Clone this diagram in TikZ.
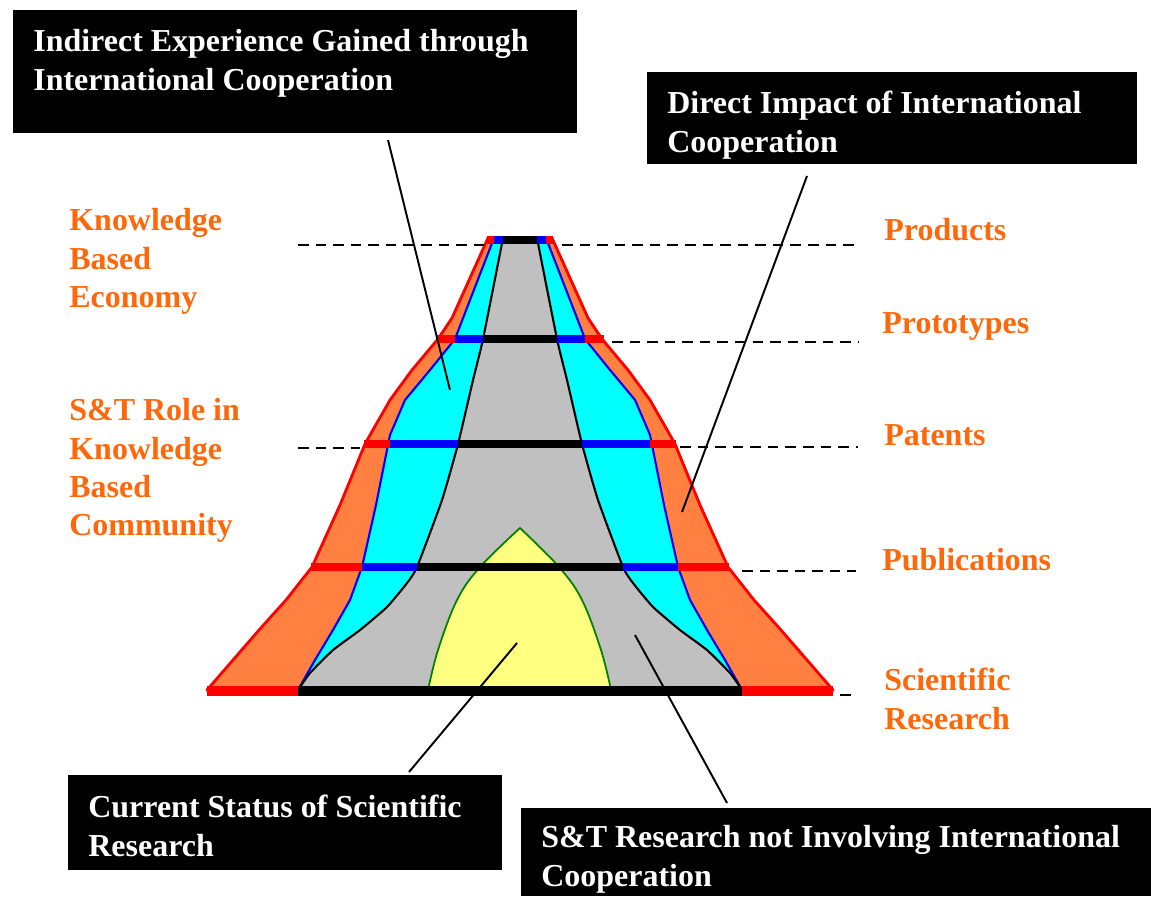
\documentclass[tikz,border=0pt]{standalone}
\usepackage{fontspec}
\setmainfont{Liberation Serif}
\usepackage{tikz}
\usetikzlibrary{calc, positioning}

\definecolor{tierorange}{RGB}{255,128,64}
\definecolor{labelorange}{RGB}{255,104,10}
\definecolor{coregray}{RGB}{192,192,192}
\definecolor{bandcyan}{RGB}{0,255,255}
\definecolor{statusyellow}{RGB}{255,255,128}
\definecolor{edgegreen}{RGB}{0,128,0}
\newcommand{\diagfont}{\fontsize{18.2}{21.9}\selectfont\bfseries}

\tikzset{
  levelbar/.style={line width=0.16cm},
  guide/.style={line width=1.3pt, dash pattern=on 6pt off 4pt},
  pointer/.style={line width=1.1pt},
  boxtext/.style={text=white, align=left, anchor=north west, inner sep=0pt, font=\diagfont},
  tiertext/.style={text=labelorange, align=left, anchor=north west, inner sep=0pt, font=\diagfont},
  leveltext/.style={text=labelorange, anchor=base west, inner sep=0pt, font=\diagfont}
}

\begin{document}
\begin{tikzpicture}[x=0.02cm, y=-0.02cm]
   \useasboundingbox (0,0) rectangle (1151,896);
   \coordinate (indirectFrom) at (388,140);
   \coordinate (indirectTo) at (450,390);
   \coordinate (directFrom) at (807,176);
   \coordinate (directTo) at (682,512);
   \coordinate (statusFrom) at (409,772);
   \coordinate (statusTo) at (517,643);
   \coordinate (localFrom) at (727,803);
   \coordinate (localTo) at (635,635);

   % pyramid layers
   \filldraw[fill=tierorange, draw=red, line width=1.6pt, line join=round]
      (207,690) -- (233,660) -- (259,630) -- (286,600) -- (312,567) -- (340,505) -- (365,444)
      -- (374,428) -- (390,400) -- (412,370) -- (438,339) -- (452,318) -- (488,238)
      -- (552,238) -- (588,318) -- (602,339) -- (628,370) -- (650,400) -- (666,428) -- (675,444)
      -- (700,505) -- (728,567) -- (754,600) -- (781,630) -- (807,660) -- (833,690) -- cycle;
   \filldraw[fill=bandcyan, draw=blue, line width=1.2pt, line join=round]
      (298,690) -- (315,660) -- (333,630) -- (350,600) -- (362,567) -- (376,505)
      -- (390,435) -- (405,400) -- (430,370) -- (455,339) -- (470,300) -- (494,238)
      -- (546,238) -- (570,300) -- (585,339) -- (610,370) -- (635,400) -- (650,435)
      -- (664,505) -- (678,567) -- (690,600) -- (707,630) -- (725,660) -- (742,690) -- cycle;
   \filldraw[fill=coregray, draw=black, line width=1.2pt]
      plot[smooth, tension=0.3] coordinates {(298,690) (310,673) (333,650) (360,630) (387,607) (407,583) (417,567) (442,500) (458,444) (473,380) (483,339) (503,238)}
      -- plot[smooth, tension=0.3] coordinates {(537,238) (557,339) (567,380) (582,444) (598,500) (623,567) (633,583) (653,607) (680,630) (707,650) (730,673) (742,690)} -- cycle;
   \filldraw[fill=statusyellow, draw=edgegreen, line width=1pt]
      plot[smooth, tension=0.6] coordinates {(428,690) (438,650) (457,600) (480,567) (520,528)}
      -- plot[smooth, tension=0.6] coordinates {(520,528) (559,567) (582,600) (601,650) (611,690)} -- cycle;

   % level bars
   \draw[levelbar, red] (487,240) -- (553,240);
   \draw[levelbar, blue] (494,240) -- (546,240);
   \draw[levelbar, black] (503,240) -- (537,240);
   \draw[levelbar, red] (437,339) -- (604,339);
   \draw[levelbar, blue] (455,339) -- (585,339);
   \draw[levelbar, black] (483,339) -- (557,339);
   \draw[levelbar, red] (364,444) -- (676,444);
   \draw[levelbar, blue] (390,444) -- (650,444);
   \draw[levelbar, black] (458,444) -- (582,444);
   \draw[levelbar, red] (311,567) -- (729,567);
   \draw[levelbar, blue] (362,567) -- (678,567);
   \draw[levelbar, black] (417,567) -- (623,567);
   \draw[line width=0.2cm, red] (207,691) -- (833,691);
   \draw[line width=0.2cm, black] (298,691) -- (742,691);

   % dashed guides
   \draw[guide] (298,245) -- (484,245);
   \draw[guide] (562,245) -- (855,245);
   \draw[guide] (612,342) -- (858,342);
   \draw[guide] (298,448) -- (360,448);
   \draw[guide] (680,447) -- (858,447);
   \draw[guide] (742,571) -- (856,571);
   \draw[guide] (840,695) -- (851,695);

   % boxes
   \fill[black] (13,10) rectangle (577,133);
   \fill[black] (647,72) rectangle (1137,164);
   \fill[black] (68,775) rectangle (502,870);
   \fill[black] (521,808) rectangle (1151,896);
   \node[boxtext] (indirect) at (33,29) {Indirect Experience Gained through\\International Cooperation};
   \node[boxtext] (direct) at (667,91) {Direct Impact of International\\Cooperation};
   \node[boxtext] (status) at (88,795) {Current Status of Scientific\\Research};
   \node[boxtext] (local) at (541,825) {S\&T Research not Involving International\\Cooperation};

   \draw[pointer] (indirectFrom) -- (indirectTo);
   \draw[pointer] (directFrom) -- (directTo);
   \draw[pointer] (statusFrom) -- (statusTo);
   \draw[pointer] (localFrom) -- (localTo);

   % tier labels
   \node[tiertext] (economy) at (69,208) {Knowledge\\Based\\Economy};
   \node[tiertext] (community) at (69,398) {S\&T Role in\\Knowledge\\Based\\Community};
   \node[leveltext] (products) at (884,240) {Products};
   \node[leveltext] (prototypes) at (882,333) {Prototypes};
   \node[leveltext] (patents) at (884,445) {Patents};
   \node[leveltext] (publications) at (882,570) {Publications};
   \node[tiertext] (research) at (884,668) {Scientific\\Research};
\end{tikzpicture}
\end{document}
